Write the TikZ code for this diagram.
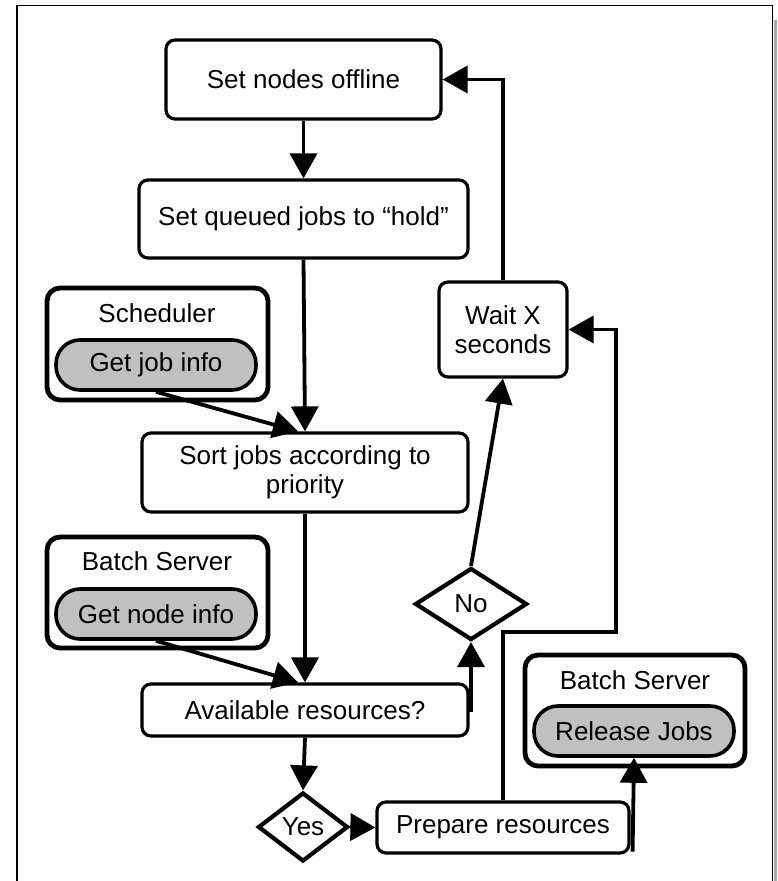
\documentclass[tikz,border=0pt]{standalone}
\usepackage{fontspec}
\setmainfont{Liberation Sans}
\usetikzlibrary{arrows.meta,shapes.geometric,calc}
\definecolor{pillgray}{RGB}{192,192,192}
\begin{document}
\begin{tikzpicture}[x=1pt,y=-1pt,
  font=\fontsize{26}{30}\selectfont,
  box/.style={draw,line width=3.2pt,rounded corners=9pt,inner sep=0pt,align=center},
  holder/.style={draw,line width=4.8pt,rounded corners=13pt,inner sep=0pt},
  pill/.style={draw,line width=3.6pt,fill=pillgray,rounded corners=24pt,inner sep=0pt,minimum width=200pt,minimum height=50pt},
  choice/.style={draw,diamond,line width=4.2pt,inner sep=0pt},
  title/.style={inner sep=0pt},
  flow/.style={line width=3.8pt,-{Triangle[length=25pt,width=27pt]}},
  plain/.style={line width=3.8pt}]
\useasboundingbox (0,0) rectangle (777,881);
% frame
\fill[gray!70] (773.5,20) rectangle (777,881);
\draw[line width=1.8pt] (17,890) -- (17,5.5) -- (772.5,5.5) -- (772.5,890);
% nodes
\node[box,minimum width=275pt,minimum height=79pt] (off) at (303.5,79.5) {Set nodes offline};
\node[box,minimum width=329pt,minimum height=78pt] (hold) at (303.5,219) {Set queued jobs to “hold”};
\node[holder,minimum width=221pt,minimum height=112pt] (sched) at (157.5,344) {};
\node[title] (schedt) at (157,313) {Scheduler};
\node[pill] (getjob) at (156,365) {Get job info};
\node[box,minimum width=326pt,minimum height=79pt] (sort) at (305,472.5) {Sort jobs according to\\[-1pt]priority};
\node[box,minimum width=128pt,minimum height=95pt] (wait) at (503,329.5) {Wait X\\[-1pt]seconds};
\node[holder,minimum width=221pt,minimum height=111pt] (bs1) at (157.5,592.5) {};
\node[title] (bs1t) at (157,561) {Batch Server};
\node[pill] (getnode) at (156,614) {Get node info};
\node[choice,minimum width=112pt,minimum height=72pt] (no) at (471,604) {No};
\node[box,minimum width=326pt,minimum height=52pt] (avail) at (305,710) {Available resources?};
\node[choice,minimum width=90pt,minimum height=69pt] (yes) at (303,827) {Yes};
\node[box,minimum width=252pt,minimum height=51pt] (prep) at (503,827.5) {Prepare resources};
\node[holder,minimum width=220pt,minimum height=111pt] (bs2) at (635,710.5) {};
\node[title] (bs2t) at (635,680) {Batch Server};
\node[pill] (release) at (634,731) {Release Jobs};
\coordinate (turn) at (616,632);
% connectors
\draw[flow] (off.south) -- (hold.north);
\draw[flow] (hold.south) -- (sort.north);
\draw[flow] (getjob.south) -- ($(sort.north)+(-7,0)$);
\draw[flow] (sort.south) -- (avail.north);
\draw[flow] (getnode.south) -- ($(avail.north)+(-7,0)$);
\draw[flow] ($(avail.east -| no.south)+(0,2)$) -- (no.south);
\draw[flow] (no.north) -- (wait.south);
\draw[flow] (avail.south) -- (yes.north);
\draw[flow] (yes.east) -- (prep.west);
\draw[flow] (prep.north) |- (turn) |- (wait.east);
\draw[flow] (wait.north) |- (off.east);
\draw[flow] ($(prep.south east)+(2,-3)$) -- (release.south);
\end{tikzpicture}
\end{document}
